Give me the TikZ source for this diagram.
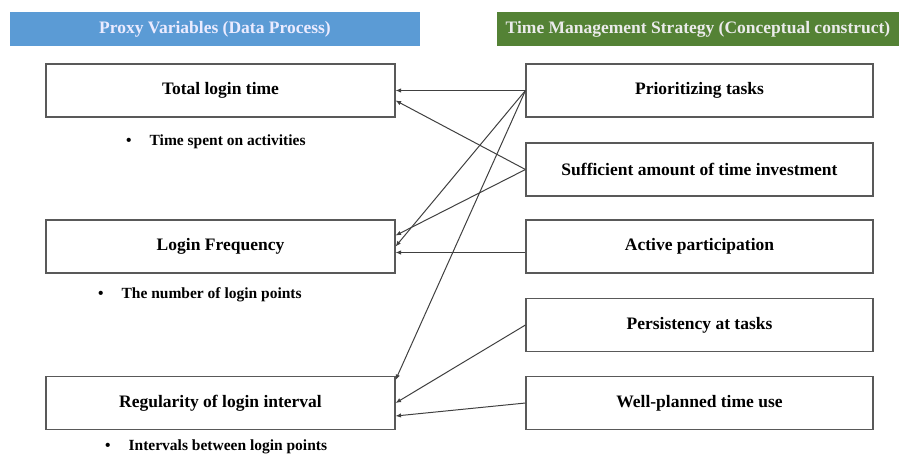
\documentclass[tikz,border=0pt]{standalone}
\usepackage{fontspec}
\setmainfont{Liberation Serif}
\usetikzlibrary{calc}
\usetikzlibrary{arrows.meta}
\definecolor{hdrblue}{HTML}{5B9BD5}
\definecolor{hdrgreen}{HTML}{548235}
\definecolor{boxgray}{HTML}{595959}
\definecolor{linkgray}{HTML}{404040}
\tikzset{
  hdr/.style={inner sep=0pt, minimum height=34pt, font=\fontsize{17.5}{20}\selectfont\bfseries},
  varbox/.style={draw=boxgray, line width=1.1pt, minimum height=53pt, inner sep=0pt, font=\fontsize{17.5}{20}\selectfont\bfseries},
  link/.style={draw=linkgray, line width=1pt, -{Latex[length=5.5pt,width=4.5pt]}}
}
\newcommand{\notenode}[4]{\node[anchor=west, inner sep=0pt, font=\fontsize{15.5}{18}\selectfont\bfseries] (#1) at (#2,#3) {\textbullet\hspace{18pt}#4};}

\begin{document}
\begin{tikzpicture}[x=1pt,y=-1pt]
        \useasboundingbox (0,0) rectangle (899,461);
        %headers
        \node[hdr, fill=hdrblue, text=blue!8, minimum width=410pt] (hleft) at (215,29) {Proxy Variables (Data Process)};
        \node[hdr, fill=hdrgreen, text=white!92!black, minimum width=402pt] (hright) at (698,29) {Time Management Strategy (Conceptual construct)};

        %proxy variables
        \node[varbox, minimum width=349pt] (total) at (220.5,90.5) {Total login time};
        \node[varbox, minimum width=349pt] (freq) at (220.5,246.5) {Login Frequency};
        \node[varbox, minimum width=349pt] (regul) at (220.5,403) {Regularity of login interval};
        \notenode{ntotal}{126}{142}{Time spent on activities}
        \notenode{nfreq}{98}{295}{The number of login points}
        \notenode{nregul}{105}{447}{Intervals between login points}

        %strategies
        \node[varbox, minimum width=347pt] (prio) at (699.5,90.5) {Prioritizing tasks};
        \node[varbox, minimum width=347pt] (suff) at (699.5,169.5) {Sufficient amount of time investment};
        \node[varbox, minimum width=347pt] (active) at (699.5,246.5) {Active participation};
        \node[varbox, minimum width=347pt] (persist) at (699.5,325) {Persistency at tasks};
        \node[varbox, minimum width=347pt] (wellplan) at (699.5,403) {Well-planned time use};

        %links
        \draw[link] (prio.west) -- (total.east);
        \draw[link] (suff.west) -- ($(total.east)+(0,10)$);
        \draw[link] (suff.west) -- ($(freq.east)+(0,-11)$);
        \draw[link] (prio.west) -- (freq.east);
        \draw[link] ($(active.west)+(0,6)$) -- ($(freq.east)+(0,6)$);
        \draw[link] (prio.west) -- ($(regul.east)+(0,-23)$);
        \draw[link] (persist.west) -- (regul.east);
        \draw[link] (wellplan.west) -- ($(regul.east)+(0,13)$);
\end{tikzpicture}
\end{document}
